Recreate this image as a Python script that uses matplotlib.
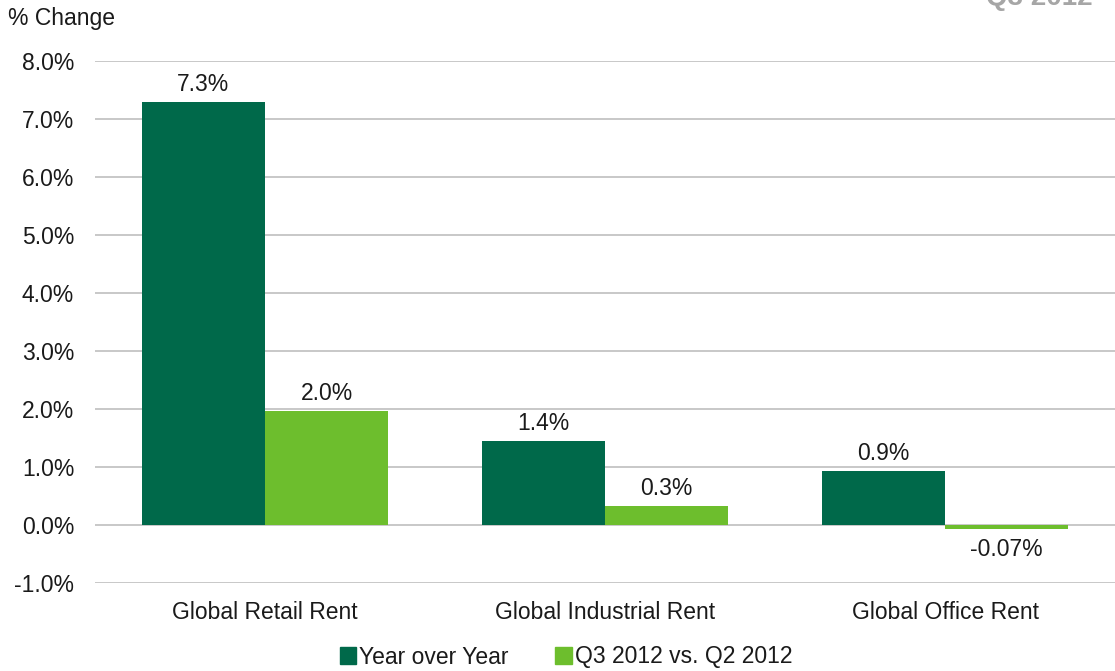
import matplotlib.pyplot as plt
from matplotlib.patches import Patch

categories = ["Global Retail Rent", "Global Industrial Rent", "Global Office Rent"]
yoy = [7.3, 1.45, 0.93]
qoq = [1.97, 0.33, -0.07]
yoy_labels = ["7.3%", "1.4%", "0.9%"]
qoq_labels = ["2.0%", "0.3%", "-0.07%"]
series_names = ["Year over Year", "Q3 2012 vs. Q2 2012"]
yticks = [-1, 0, 1, 2, 3, 4, 5, 6, 7, 8]

dark = "#00694A"
light = "#6DBE2D"
text_col = "#1a1a1a"
fs = 16.5

plt.rcParams["font.family"] = ["Liberation Sans", "DejaVu Sans"]

fig = plt.figure(figsize=(11.15, 6.71), dpi=100)
ax = fig.add_axes([95 / 1115, 88 / 671, 1 - 95 / 1115, (583 - 61) / 671])

w = 0.362
x = list(range(len(categories)))
ax.bar([i - w / 2 for i in x], yoy, width=w, color=dark, zorder=3)
ax.bar([i + w / 2 for i in x], qoq, width=w, color=light, zorder=3)

for i in x:
    ax.text(i - w / 2, yoy[i] + 0.1, yoy_labels[i], ha="center", va="bottom",
            fontsize=fs, color=text_col)
    if qoq[i] >= 0:
        ax.text(i + w / 2, qoq[i] + 0.1, qoq_labels[i], ha="center", va="bottom",
                fontsize=fs, color=text_col)
    else:
        ax.text(i + w / 2, qoq[i] - 0.15, qoq_labels[i], ha="center", va="top",
                fontsize=fs, color=text_col)

ax.set_xlim(-0.5, 2.5)
ax.set_ylim(-1, 8)
ax.set_yticks(yticks)
ax.set_yticklabels([f"{v:.1f}%" for v in yticks], fontsize=fs, color=text_col)
ax.set_xticks(x)
ax.set_xticklabels(categories, fontsize=fs, color=text_col)
ax.tick_params(axis="both", length=0)
ax.tick_params(axis="y", pad=15)
ax.tick_params(axis="x", pad=13)
ax.grid(axis="y", color="#c4c4c4", linewidth=1.3, zorder=0)
for s in ax.spines.values():
    s.set_visible(False)

fig.text(8 / 1115, 1 - 18 / 671, "% Change", ha="left", va="center",
         fontsize=fs, color=text_col)
fig.text(1093 / 1115, 1 - 5 / 671, "Q3 2012", ha="right", va="baseline",
         fontsize=20, fontweight="bold", color="#a6a6a6")

handles = [Patch(color=dark), Patch(color=light)]
fig.legend(handles, series_names, loc="center", bbox_to_anchor=(566 / 1115, 1 - 657 / 671),
           ncol=2, frameon=False, fontsize=fs, handlelength=0.7, handleheight=0.7,
           handletextpad=0.15, columnspacing=2.05, labelcolor=text_col)

fig.savefig("out.png", dpi=100)
